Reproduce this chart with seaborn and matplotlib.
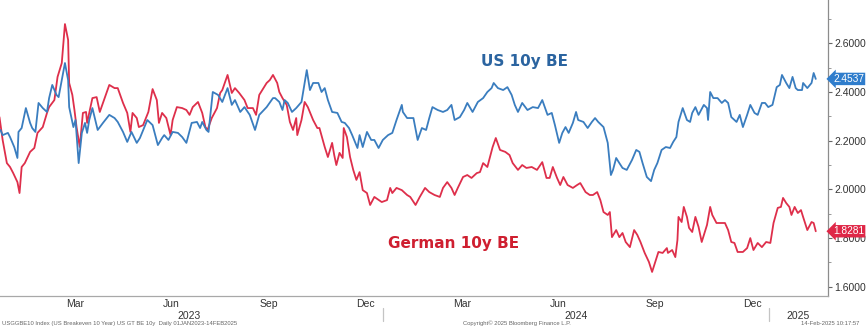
import matplotlib
matplotlib.use("Agg")
import matplotlib.pyplot as plt
import matplotlib.transforms as mtransforms
import matplotlib.dates as mdates
from matplotlib.ticker import MultipleLocator
from matplotlib.lines import Line2D
import pandas as pd
import seaborn as sns

# US 10-year breakeven inflation (USGGBE10 Index)
us_dates = [
    "2023-01-04", "2023-01-06", "2023-01-11", "2023-01-13", "2023-01-17", "2023-01-20", "2023-01-21",
    "2023-01-24", "2023-01-28", "2023-02-01", "2023-02-03", "2023-02-06", "2023-02-09", "2023-02-13",
    "2023-02-17", "2023-02-19", "2023-02-22", "2023-02-26", "2023-02-28", "2023-03-06", "2023-03-09",
    "2023-03-10", "2023-03-12", "2023-03-14", "2023-03-16", "2023-03-19", "2023-03-22", "2023-03-25",
    "2023-03-27", "2023-03-29", "2023-04-01", "2023-04-06", "2023-04-11", "2023-04-17", "2023-04-22",
    "2023-04-25", "2023-04-30", "2023-05-04", "2023-05-08", "2023-05-13", "2023-05-16", "2023-05-18",
    "2023-05-23", "2023-05-28", "2023-06-02", "2023-06-06", "2023-06-08", "2023-06-12", "2023-06-16",
    "2023-06-21", "2023-06-25", "2023-06-29", "2023-07-04", "2023-07-09", "2023-07-12", "2023-07-14",
    "2023-07-18", "2023-07-20", "2023-07-24", "2023-07-29", "2023-08-02", "2023-08-07", "2023-08-11",
    "2023-08-14", "2023-08-19", "2023-08-23", "2023-08-28", "2023-09-02", "2023-09-06", "2023-09-13",
    "2023-09-19", "2023-09-21", "2023-09-25", "2023-09-28", "2023-09-30", "2023-10-03", "2023-10-07",
    "2023-10-11", "2023-10-16", "2023-10-21", "2023-10-24", "2023-10-27", "2023-11-01", "2023-11-04",
    "2023-11-07", "2023-11-10", "2023-11-14", "2023-11-19", "2023-11-23", "2023-11-26", "2023-11-30",
    "2023-12-03", "2023-12-08", "2023-12-10", "2023-12-13", "2023-12-17", "2023-12-21", "2023-12-24",
    "2023-12-28", "2024-01-01", "2024-01-06", "2024-01-10", "2024-01-14", "2024-01-19", "2024-01-20",
    "2024-01-24", "2024-01-30", "2024-02-03", "2024-02-07", "2024-02-11", "2024-02-14", "2024-02-17",
    "2024-02-22", "2024-02-27", "2024-03-02", "2024-03-06", "2024-03-09", "2024-03-14", "2024-03-18",
    "2024-03-21", "2024-03-26", "2024-03-31", "2024-04-05", "2024-04-09", "2024-04-13", "2024-04-15",
    "2024-04-19", "2024-04-24", "2024-04-28", "2024-05-02", "2024-05-05", "2024-05-08", "2024-05-12",
    "2024-05-17", "2024-05-22", "2024-05-27", "2024-05-31", "2024-06-05", "2024-06-09", "2024-06-12",
    "2024-06-16", "2024-06-19", "2024-06-22", "2024-06-25", "2024-06-29", "2024-07-02", "2024-07-04",
    "2024-07-09", "2024-07-13", "2024-07-17", "2024-07-20", "2024-07-23", "2024-07-28", "2024-08-01",
    "2024-08-04", "2024-08-06", "2024-08-09", "2024-08-12", "2024-08-15", "2024-08-19", "2024-08-24",
    "2024-08-28", "2024-08-31", "2024-09-03", "2024-09-07", "2024-09-11", "2024-09-14", "2024-09-17",
    "2024-09-21", "2024-09-25", "2024-09-29", "2024-10-02", "2024-10-05", "2024-10-07", "2024-10-11",
    "2024-10-15", "2024-10-18", "2024-10-20", "2024-10-23", "2024-10-26", "2024-10-31", "2024-11-03",
    "2024-11-04", "2024-11-06", "2024-11-09", "2024-11-13", "2024-11-17", "2024-11-20", "2024-11-23",
    "2024-11-26", "2024-12-01", "2024-12-04", "2024-12-07", "2024-12-11", "2024-12-14", "2024-12-18",
    "2024-12-21", "2024-12-25", "2024-12-28", "2024-12-31", "2025-01-04", "2025-01-08", "2025-01-11",
    "2025-01-13", "2025-01-17", "2025-01-20", "2025-01-23", "2025-01-26", "2025-01-28", "2025-02-01",
    "2025-02-02", "2025-02-06", "2025-02-10", "2025-02-12", "2025-02-14",
]
us_be = [
    2.244, 2.223, 2.232, 2.215, 2.174, 2.129, 2.236,
    2.252, 2.334, 2.273, 2.252, 2.236, 2.355, 2.334,
    2.318, 2.375, 2.429, 2.388, 2.379, 2.519, 2.449,
    2.338, 2.297, 2.256, 2.285, 2.108, 2.232, 2.273,
    2.232, 2.285, 2.334, 2.244, 2.273, 2.306, 2.293,
    2.277, 2.236, 2.195, 2.236, 2.191, 2.211, 2.232,
    2.285, 2.264, 2.182, 2.211, 2.223, 2.203, 2.236,
    2.232, 2.215, 2.191, 2.273, 2.277, 2.252, 2.277,
    2.244, 2.236, 2.400, 2.388, 2.359, 2.416, 2.347,
    2.367, 2.318, 2.338, 2.306, 2.244, 2.306, 2.338,
    2.375, 2.375, 2.359, 2.326, 2.367, 2.355, 2.318,
    2.334, 2.359, 2.490, 2.408, 2.437, 2.437, 2.400,
    2.416, 2.367, 2.318, 2.314, 2.277, 2.273, 2.252,
    2.223, 2.170, 2.223, 2.174, 2.236, 2.203, 2.203,
    2.170, 2.203, 2.223, 2.232, 2.285, 2.347, 2.318,
    2.293, 2.293, 2.203, 2.252, 2.244, 2.293, 2.338,
    2.326, 2.318, 2.326, 2.347, 2.285, 2.297, 2.326,
    2.355, 2.318, 2.359, 2.375, 2.400, 2.416, 2.437,
    2.416, 2.408, 2.420, 2.388, 2.347, 2.318, 2.355,
    2.326, 2.338, 2.334, 2.367, 2.306, 2.314, 2.264,
    2.191, 2.232, 2.256, 2.232, 2.273, 2.318, 2.285,
    2.277, 2.252, 2.277, 2.293, 2.277, 2.256, 2.191,
    2.059, 2.080, 2.129, 2.108, 2.088, 2.080, 2.121,
    2.162, 2.154, 2.108, 2.051, 2.034, 2.080, 2.108,
    2.162, 2.174, 2.170, 2.195, 2.215, 2.277, 2.334,
    2.285, 2.277, 2.314, 2.338, 2.306, 2.347, 2.334,
    2.285, 2.400, 2.375, 2.375, 2.355, 2.367, 2.355,
    2.297, 2.277, 2.306, 2.256, 2.306, 2.347, 2.314,
    2.306, 2.355, 2.355, 2.338, 2.347, 2.420, 2.429,
    2.470, 2.437, 2.416, 2.462, 2.416, 2.408, 2.408,
    2.437, 2.416, 2.437, 2.478, 2.4537,
]

# German 10-year breakeven inflation
de_dates = [
    "2023-01-03", "2023-01-06", "2023-01-10", "2023-01-13", "2023-01-16", "2023-01-20", "2023-01-22",
    "2023-01-24", "2023-01-27", "2023-02-01", "2023-02-05", "2023-02-08", "2023-02-13", "2023-02-17",
    "2023-02-19", "2023-02-24", "2023-02-27", "2023-03-03", "2023-03-06", "2023-03-09", "2023-03-10",
    "2023-03-13", "2023-03-15", "2023-03-17", "2023-03-20", "2023-03-23", "2023-03-26", "2023-03-27",
    "2023-04-01", "2023-04-05", "2023-04-08", "2023-04-13", "2023-04-17", "2023-04-22", "2023-04-25",
    "2023-04-30", "2023-05-04", "2023-05-07", "2023-05-09", "2023-05-13", "2023-05-15", "2023-05-19",
    "2023-05-24", "2023-05-28", "2023-06-01", "2023-06-03", "2023-06-06", "2023-06-10", "2023-06-14",
    "2023-06-16", "2023-06-20", "2023-06-25", "2023-06-29", "2023-07-02", "2023-07-05", "2023-07-10",
    "2023-07-14", "2023-07-17", "2023-07-19", "2023-07-23", "2023-07-28", "2023-07-31", "2023-08-02",
    "2023-08-07", "2023-08-11", "2023-08-14", "2023-08-18", "2023-08-23", "2023-08-26", "2023-08-31",
    "2023-09-03", "2023-09-06", "2023-09-13", "2023-09-16", "2023-09-19", "2023-09-23", "2023-09-25",
    "2023-09-28", "2023-10-02", "2023-10-05", "2023-10-08", "2023-10-11", "2023-10-12", "2023-10-16",
    "2023-10-19", "2023-10-22", "2023-10-27", "2023-10-31", "2023-11-02", "2023-11-07", "2023-11-10",
    "2023-11-14", "2023-11-16", "2023-11-18", "2023-11-21", "2023-11-24", "2023-11-25", "2023-11-28",
    "2023-12-01", "2023-12-04", "2023-12-07", "2023-12-10", "2023-12-13", "2023-12-17", "2023-12-20",
    "2023-12-24", "2023-12-31", "2024-01-05", "2024-01-08", "2024-01-10", "2024-01-14", "2024-01-19",
    "2024-01-24", "2024-01-27", "2024-02-01", "2024-02-05", "2024-02-10", "2024-02-14", "2024-02-19",
    "2024-02-24", "2024-02-27", "2024-03-02", "2024-03-06", "2024-03-09", "2024-03-12", "2024-03-17",
    "2024-03-21", "2024-03-25", "2024-03-30", "2024-04-02", "2024-04-05", "2024-04-09", "2024-04-12",
    "2024-04-14", "2024-04-17", "2024-04-21", "2024-04-26", "2024-04-30", "2024-05-03", "2024-05-08",
    "2024-05-12", "2024-05-16", "2024-05-21", "2024-05-26", "2024-05-31", "2024-06-04", "2024-06-07",
    "2024-06-10", "2024-06-14", "2024-06-17", "2024-06-20", "2024-06-24", "2024-06-29", "2024-07-03",
    "2024-07-06", "2024-07-11", "2024-07-15", "2024-07-18", "2024-07-22", "2024-07-25", "2024-07-28",
    "2024-08-01", "2024-08-03", "2024-08-05", "2024-08-09", "2024-08-12", "2024-08-15", "2024-08-18",
    "2024-08-22", "2024-08-26", "2024-08-29", "2024-09-01", "2024-09-05", "2024-09-09", "2024-09-12",
    "2024-09-15", "2024-09-18", "2024-09-22", "2024-09-26", "2024-09-27", "2024-10-01", "2024-10-04",
    "2024-10-06", "2024-10-07", "2024-10-10", "2024-10-12", "2024-10-15", "2024-10-17", "2024-10-20",
    "2024-10-23", "2024-10-26", "2024-10-29", "2024-11-03", "2024-11-06", "2024-11-08", "2024-11-12",
    "2024-11-17", "2024-11-20", "2024-11-23", "2024-11-26", "2024-11-29", "2024-12-02", "2024-12-07",
    "2024-12-11", "2024-12-14", "2024-12-17", "2024-12-21", "2024-12-25", "2024-12-29", "2025-01-02",
    "2025-01-05", "2025-01-09", "2025-01-12", "2025-01-14", "2025-01-17", "2025-01-20", "2025-01-22",
    "2025-01-25", "2025-01-28", "2025-01-31", "2025-02-02", "2025-02-06", "2025-02-10", "2025-02-12",
    "2025-02-14",
]
de_be = [
    2.297, 2.203, 2.108, 2.092, 2.067, 2.030, 1.985,
    2.092, 2.108, 2.154, 2.170, 2.232, 2.256, 2.314,
    2.338, 2.367, 2.462, 2.519, 2.679, 2.614, 2.437,
    2.388, 2.326, 2.256, 2.174, 2.314, 2.318, 2.273,
    2.375, 2.379, 2.318, 2.379, 2.429, 2.416, 2.416,
    2.355, 2.314, 2.236, 2.314, 2.293, 2.256, 2.264,
    2.318, 2.412, 2.367, 2.273, 2.314, 2.293, 2.223,
    2.285, 2.338, 2.334, 2.326, 2.306, 2.338, 2.359,
    2.314, 2.256, 2.244, 2.293, 2.334, 2.396, 2.408,
    2.470, 2.396, 2.416, 2.396, 2.367, 2.334, 2.334,
    2.306, 2.388, 2.437, 2.449, 2.470, 2.437, 2.400,
    2.375, 2.347, 2.277, 2.244, 2.293, 2.223, 2.285,
    2.359, 2.338, 2.285, 2.252, 2.252, 2.174, 2.133,
    2.191, 2.141, 2.100, 2.150, 2.129, 2.252, 2.215,
    2.133, 2.080, 2.039, 2.071, 1.997, 1.985, 1.936,
    1.969, 1.948, 1.956, 2.006, 1.985, 2.006, 1.997,
    1.977, 1.969, 1.936, 1.969, 2.006, 1.989, 1.977,
    1.969, 2.006, 2.030, 2.006, 1.977, 2.006, 2.051,
    2.059, 2.047, 2.067, 2.071, 2.108, 2.092, 2.141,
    2.174, 2.211, 2.162, 2.154, 2.141, 2.108, 2.080,
    2.100, 2.088, 2.092, 2.080, 2.112, 2.047, 2.047,
    2.092, 2.047, 2.018, 2.051, 2.018, 2.006, 2.018,
    2.026, 1.989, 1.977, 1.977, 1.989, 1.956, 1.907,
    1.895, 1.907, 1.804, 1.833, 1.804, 1.821, 1.784,
    1.763, 1.833, 1.813, 1.784, 1.739, 1.702, 1.661,
    1.702, 1.743, 1.739, 1.759, 1.739, 1.751, 1.722,
    1.792, 1.887, 1.866, 1.928, 1.887, 1.842, 1.825,
    1.887, 1.846, 1.784, 1.854, 1.928, 1.895, 1.862,
    1.862, 1.862, 1.833, 1.784, 1.780, 1.743, 1.743,
    1.759, 1.800, 1.751, 1.780, 1.763, 1.784, 1.780,
    1.862, 1.924, 1.928, 1.965, 1.944, 1.928, 1.895,
    1.928, 1.903, 1.915, 1.887, 1.833, 1.866, 1.862,
    1.8281,
]

y_ticks = [1.6, 1.8, 2.0, 2.2, 2.4, 2.6]
month_labels = ["Mar", "Jun", "Sep", "Dec", "Mar", "Jun", "Sep", "Dec"]
month_label_dates = ["2023-03-16", "2023-06-15", "2023-09-15", "2023-12-16",
                     "2024-03-16", "2024-06-15", "2024-09-15", "2024-12-16"]
year_labels = ["2023", "2024", "2025"]
year_label_dates = ["2023-07-02", "2024-07-02", "2025-01-28"]
year_breaks = ["2024-01-01", "2025-01-01"]

BLUE = "#3a7dbf"
RED = "#de2f4b"
BLUE_TXT = "#2b64a0"
RED_TXT = "#cf1f30"

sns.set_theme(style="white")
plt.rcParams["font.family"] = ["Liberation Sans", "DejaVu Sans"]

fig = plt.figure(figsize=(8.66, 3.29), dpi=100)
ax = fig.add_axes([0.0, 33 / 329, 828 / 866, 296 / 329])

us = pd.DataFrame({"date": pd.to_datetime(us_dates), "value": us_be})
de = pd.DataFrame({"date": pd.to_datetime(de_dates), "value": de_be})

sns.lineplot(data=de, x="date", y="value", ax=ax, color=RED, linewidth=1.3)
sns.lineplot(data=us, x="date", y="value", ax=ax, color=BLUE, linewidth=1.3)

ax.set_xlim(pd.Timestamp("2023-01-03 12:00"), pd.Timestamp("2025-02-25 14:00"))
ax.set_ylim(1.5622, 2.7778)
ax.set_xlabel("")
ax.set_ylabel("")

for side in ("left", "top"):
    ax.spines[side].set_visible(False)
ax.spines["right"].set_color("#8c8c8c")
ax.spines["right"].set_linewidth(0.9)
ax.spines["bottom"].set_color("#a8a8a8")
ax.spines["bottom"].set_linewidth(0.9)

# right-hand value axis
ax.yaxis.tick_right()
ax.set_yticks(y_ticks)
ax.set_yticklabels([f"{v:.4f}" for v in y_ticks])
ax.yaxis.set_minor_locator(MultipleLocator(0.1))
ax.tick_params(axis="y", which="major", direction="out", length=3, width=0.8,
               color="#666666", pad=1.5, labelsize=7.5, labelcolor="#333333")
ax.tick_params(axis="y", which="minor", direction="out", length=2, width=0.7,
               color="#999999")

# month labels centred in their months, ticks at month boundaries
ax.set_xticks(pd.to_datetime(month_label_dates))
ax.set_xticklabels(month_labels)
ax.xaxis.set_minor_locator(mdates.MonthLocator())
ax.tick_params(axis="x", which="major", length=0, pad=2.5, labelsize=7.5,
               labelcolor="#333333")
ax.tick_params(axis="x", which="minor", direction="out", length=3, width=0.7,
               color="#aaaaaa")

xa = mtransforms.blended_transform_factory(ax.transData, ax.transAxes)
for d, lab in zip(year_label_dates, year_labels):
    ax.text(pd.Timestamp(d), -0.066, lab, transform=xa, ha="center", va="center",
            fontsize=7.5, color="#333333", clip_on=False)
for d in year_breaks:
    xd = mdates.date2num(pd.Timestamp(d))
    ax.add_line(Line2D([xd, xd], [-0.04, -0.085], transform=xa, color="#c4c4c4",
                       linewidth=0.9, clip_on=False))

# series names
ax.text(0.633, 0.792, "US 10y BE", transform=ax.transAxes, ha="center", va="center",
        fontsize=11, fontweight="bold", color=BLUE_TXT, family=["DejaVu Sans"])
ax.text(0.548, 0.179, "German 10y BE", transform=ax.transAxes, ha="center", va="center",
        fontsize=11, fontweight="bold", color=RED_TXT, family=["DejaVu Sans"])

# last-value tags on the value axis
ya = mtransforms.blended_transform_factory(ax.transAxes, ax.transData)
for val, col in ((us_be[-1], "#2f7dcc"), (de_be[-1], "#df2747")):
    ax.text(1.0 + 5 / 828, val, f"{val:.4f}", transform=ya, ha="left", va="center",
            fontsize=7.3, color="white", clip_on=False, zorder=5,
            bbox=dict(boxstyle="larrow,pad=0.12", fc=col, ec="none"))

# footer
fig.text(0.002, 0.018, "USGGBE10 Index (US Breakeven 10 Year) US GT BE 10y  Daily 01JAN2023-14FEB2025",
         fontsize=4.2, color="#666666", ha="left", va="center")
fig.text(0.597, 0.018, "Copyright\u00a9 2025 Bloomberg Finance L.P.",
         fontsize=4.2, color="#666666", ha="center", va="center")
fig.text(0.992, 0.018, "14-Feb-2025 10:17:57",
         fontsize=4.2, color="#666666", ha="right", va="center")

fig.savefig("out.png", dpi=100, facecolor="white")
